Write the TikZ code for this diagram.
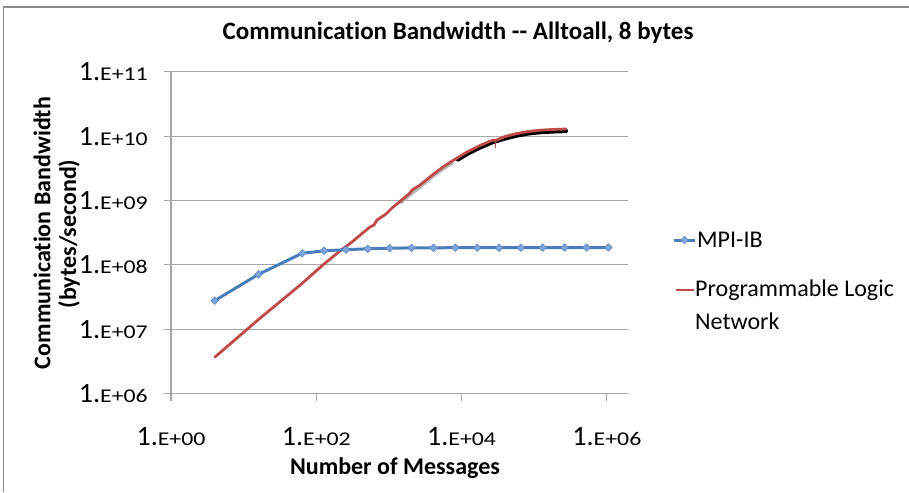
\documentclass[tikz,border=0pt]{standalone}
\usepackage{fontspec}
\setmainfont{Carlito}[Ligatures={NoCommon}]
\usepackage{graphicx}
\definecolor{mpiblue}{HTML}{4A7EBB}
\definecolor{mpifill}{HTML}{7FA6DB}
\definecolor{mpiedge}{HTML}{5B89C4}
\definecolor{plnred}{HTML}{BE4B48}
\definecolor{gridgray}{HTML}{A6A6A6}
\definecolor{framegray}{HTML}{8C8C8C}
\newcommand\tlab[1]{{\fontsize{28}{28}\selectfont 1.}\scalebox{1.22}[1]{\fontsize{19.5}{19.5}\selectfont E+#1}}
\tikzset{
  gridline/.style={draw=gridgray, line width=1.1pt},
  axisline/.style={draw=gridgray, line width=1.1pt},
  ticklab/.style={inner sep=0pt},
  axtitle/.style={inner sep=0pt, font=\fontsize{24}{26}\selectfont\bfseries},
  legtext/.style={inner sep=0pt, font=\fontsize{24}{26}\selectfont},
  bluemark/.style={fill=mpifill, draw=mpiedge, line width=0.6pt},
  blueline/.style={draw=mpiblue, line width=3pt, line join=round},
  redline/.style={draw=plnred, line width=2.8pt, line join=round, line cap=round}
}
\begin{document}
\begin{tikzpicture}[x=1pt,y=-1pt]
\useasboundingbox (0,0) rectangle (909,492);
% chart frame (left and top only visible)
\draw[framegray, line width=1.4pt] (3.5,492) -- (3.5,7) -- (909,7);

% title
\node[inner sep=0pt, font=\fontsize{25}{27}\selectfont\bfseries] (title) at (458,33) {Communication Bandwidth -{}- Alltoall, 8 bytes};

% horizontal gridlines and y tick labels
\foreach \e in {6,...,11}{
  \pgfmathsetmacro{\yy}{393.7-(\e-6)*64.4}
  \draw[gridline] (164,\yy) -- (628,\yy);
  \ifnum\e<10
    \node[ticklab, anchor=east] (ylab\e) at (148,\yy) {\tlab{0\e}};
  \else
    \node[ticklab, anchor=east] (ylab\e) at (148,\yy) {\tlab{\e}};
  \fi
}
% vertical axis
\draw[axisline] (171,71.7) -- (171,401);
% x ticks and labels
\foreach \k/\lab in {0/00,2/02,4/04,6/06}{
  \pgfmathsetmacro{\xx}{171+\k*72.65}
  \draw[axisline] (\xx,393.7) -- (\xx,401);
  \node[ticklab] (xlab\k) at (\xx,437) {\tlab{\lab}};
}

% axis titles
\node[axtitle] (xtitle) at (395,468) {Number of Messages};
\node[axtitle, rotate=90] (ytitleA) at (42,233) {Communication Bandwidth};
\node[axtitle, rotate=90] (ytitleB) at (69,234) {(bytes/second)};

% red series shadow (dense data underneath)
\draw[gray!55, line width=4pt, line join=round] (400,203) -- (410,194.5) -- (420,186.5) -- (433,176) -- (443,168.5) -- (453,162);
\draw[black, line width=4.2pt, line join=round, line cap=round]
  (458,159.5) -- (467,154) -- (480,147.5) -- (493,142) -- (505,138.5) -- (517,135.5) -- (528,133.5) -- (540,132.2) -- (552,131.5) -- (566,131);

% red series: Programmable Logic Network
\draw[redline] (215,357) -- (258.5,319.5) -- (302,283.5) -- (324,264) -- (340,251) -- (352,242) -- (362,233.5) -- (370,227) -- (374,225) -- (377,220) -- (386,214) -- (392,208) -- (400,201.5) -- (410,193) -- (412,190) -- (420,185) -- (433,174.5) -- (443,167) -- (453,160.5) -- (467,152) -- (480,145.5) -- (493,140) -- (495.5,140.5) -- (505,136.5) -- (517,133.5) -- (528,131.5) -- (540,130.2) -- (552,129.5) -- (566,129);
\draw[plnred, line width=1.6pt, line cap=round] (495.5,140) -- (495.5,147.5);

% blue series: MPI-IB
\draw[blueline] (214.7,300.7) -- (258.5,274.3) -- (302.2,253.3) -- (324.1,250.8) -- (346,249.7) -- (367.8,248.8) -- (389.7,248.2) -- (411.6,247.9) -- (433.5,247.8) -- (455.3,247.7) -- (477.2,247.7) -- (499.1,247.7) -- (521,247.6) -- (542.8,247.6) -- (564.7,247.5) -- (586.6,247.5) -- (608.4,247.5);
\foreach \px/\py in {214.7/300.7,258.5/274.3,302.2/253.3,324.1/250.8,346/249.7,367.8/248.8,389.7/248.2,411.6/247.9,433.5/247.8,455.3/247.7,477.2/247.7,499.1/247.7,521/247.6,542.8/247.6,564.7/247.5,586.6/247.5,608.4/247.5}{
  \path[bluemark] (\px-3.8,\py) -- (\px,\py-3.8) -- (\px+3.8,\py) -- (\px,\py+3.8) -- cycle;
}

% legend
\draw[blueline] (674,240) -- (695,240);
\path[bluemark] (684.5-3.8,240) -- (684.5,240-3.8) -- (684.5+3.8,240) -- (684.5,240+3.8) -- cycle;
\node[legtext, anchor=west] (legA) at (697,240) {MPI-IB};
\draw[redline, line cap=butt] (676,290) -- (694,290);
\node[legtext, anchor=west] (legB1) at (695,290) {Programmable Logic};
\node[legtext, anchor=west] (legB2) at (695,321) {Network};
\end{tikzpicture}
\end{document}
